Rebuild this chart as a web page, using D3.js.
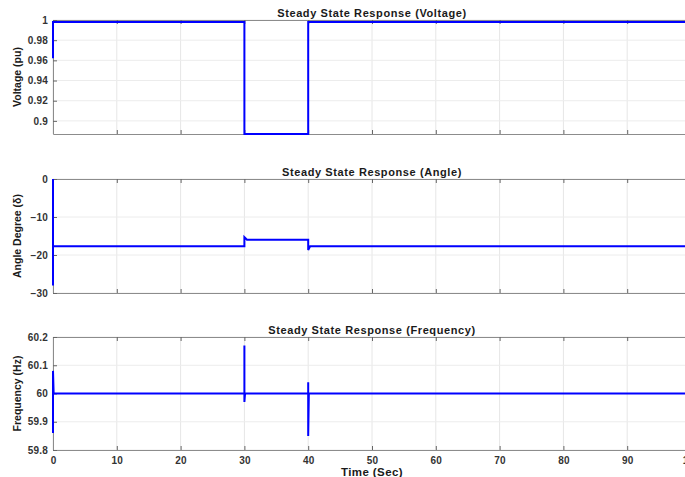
<!DOCTYPE html>
<html>
<head>
<meta charset="utf-8">
<script src="https://cdn.jsdelivr.net/npm/d3@7"></script>
<style>
  body { margin: 0; background: #fff; overflow: hidden; }
  text { font-family: "Liberation Sans", Arial, sans-serif; font-weight: bold; }
</style>
</head>
<body>
<div id="chart"></div>
<script>
// time values (sec) and responses
var voltT = [0, 0, 30, 30, 40, 40, 100];
var voltV = [0.962, 0.998, 0.998, 0.887, 0.887, 0.998, 0.998];

var angT = [0, 0, 0, 30, 30, 30.4, 40, 40, 40.3, 100];
var angV = [0, -28, -17.7, -17.7, -15.3, -16.0, -16.0, -18.7, -17.7, -17.7];

var freqT = [0, 0, 0.1, 30, 30, 30, 30.1, 40, 40, 40, 40.1, 100];
var freqV = [59.86, 60.08, 60, 60, 60.17, 59.97, 60, 60, 60.04, 59.85, 60, 60];

var xTicks = [0, 10, 20, 30, 40, 50, 60, 70, 80, 90, 100];
var voltTicks = [0.9, 0.92, 0.94, 0.96, 0.98, 1];
var angTicks = [-30, -20, -10, 0];
var freqTicks = [59.8, 59.9, 60, 60.1, 60.2];

var width = 685, height = 477;
var left = 53, right = 691;

var svg = d3.select("#chart").append("svg")
    .attr("width", width)
    .attr("height", height);

var xScale = d3.scaleLinear().domain([0, 100]).range([left, right]);

var panels = [
  { title: "Steady State Response (Voltage)", ylabel: "Voltage (pu)", t: voltT, v: voltV,
    domain: [0.887, 1], ticks: voltTicks, top: 20, bottom: 134, xlabels: false },
  { title: "Steady State Response (Angle)", ylabel: "Angle Degree (\u03b4)", t: angT, v: angV,
    domain: [-30, 0], ticks: angTicks, top: 179, bottom: 293, xlabels: false },
  { title: "Steady State Response (Frequency)", ylabel: "Frequency (Hz)", t: freqT, v: freqV,
    domain: [59.8, 60.2], ticks: freqTicks, top: 337, bottom: 450, xlabels: true }
];

panels.forEach(function(p) {
  var yScale = d3.scaleLinear().domain(p.domain).range([p.bottom, p.top]);
  var g = svg.append("g");

  // grid
  g.selectAll(".vgrid").data(xTicks).enter().append("line")
    .attr("x1", function(d) { return xScale(d); })
    .attr("x2", function(d) { return xScale(d); })
    .attr("y1", p.top).attr("y2", p.bottom)
    .attr("stroke", "#e6e6e6").attr("stroke-width", 1);
  g.selectAll(".hgrid").data(p.ticks).enter().append("line")
    .attr("x1", left).attr("x2", right)
    .attr("y1", function(d) { return yScale(d); })
    .attr("y2", function(d) { return yScale(d); })
    .attr("stroke", "#ececec").attr("stroke-width", 1);

  // axes, ticks inside like matlab
  var xb = d3.axisBottom(xScale).tickValues(xTicks).tickSizeInner(-4).tickSizeOuter(0)
    .tickPadding(7).tickFormat(p.xlabels ? d3.format("d") : "");
  var xt = d3.axisTop(xScale).tickValues(xTicks).tickSizeInner(-4).tickSizeOuter(0).tickFormat("");
  var yl = d3.axisLeft(yScale).tickValues(p.ticks).tickSizeInner(-4).tickSizeOuter(0)
    .tickPadding(5).tickFormat(d3.format("~g"));

  g.append("g").attr("transform", "translate(0," + p.bottom + ")").call(xb);
  g.append("g").attr("transform", "translate(0," + p.top + ")").call(xt);
  g.append("g").attr("transform", "translate(" + left + ",0)").call(yl);

  g.selectAll(".domain").attr("stroke", "#8c8c8c");
  g.selectAll(".tick line").attr("stroke", "#666");
  g.selectAll(".tick text").attr("fill", "#333").attr("font-size", 10)
    .attr("letter-spacing", 0.2);

  // curve
  var pts = p.t.map(function(t, i) { return [t, p.v[i]]; });
  g.append("path")
    .datum(pts)
    .attr("fill", "none")
    .attr("stroke", "#0000ff")
    .attr("stroke-width", 2)
    .attr("d", d3.line()
      .x(function(d) { return xScale(d[0]); })
      .y(function(d) { return yScale(d[1]); }));

  // title
  g.append("text")
    .attr("x", (left + right) / 2)
    .attr("y", p.top - 3)
    .attr("text-anchor", "middle")
    .attr("font-size", 11)
    .attr("letter-spacing", 0.6)
    .attr("fill", "#1a1a1a")
    .text(p.title);

  // y label
  g.append("text")
    .attr("transform", "rotate(-90)")
    .attr("x", -(p.top + p.bottom) / 2)
    .attr("y", 21)
    .attr("text-anchor", "middle")
    .attr("font-size", 10.5)
    .attr("fill", "#1a1a1a")
    .text(p.ylabel);
});

svg.append("text")
  .attr("x", (left + right) / 2)
  .attr("y", 476)
  .attr("text-anchor", "middle")
  .attr("font-size", 11.5)
  .attr("letter-spacing", 0.4)
  .attr("fill", "#1a1a1a")
  .text("Time (Sec)");
</script>
</body>
</html>
